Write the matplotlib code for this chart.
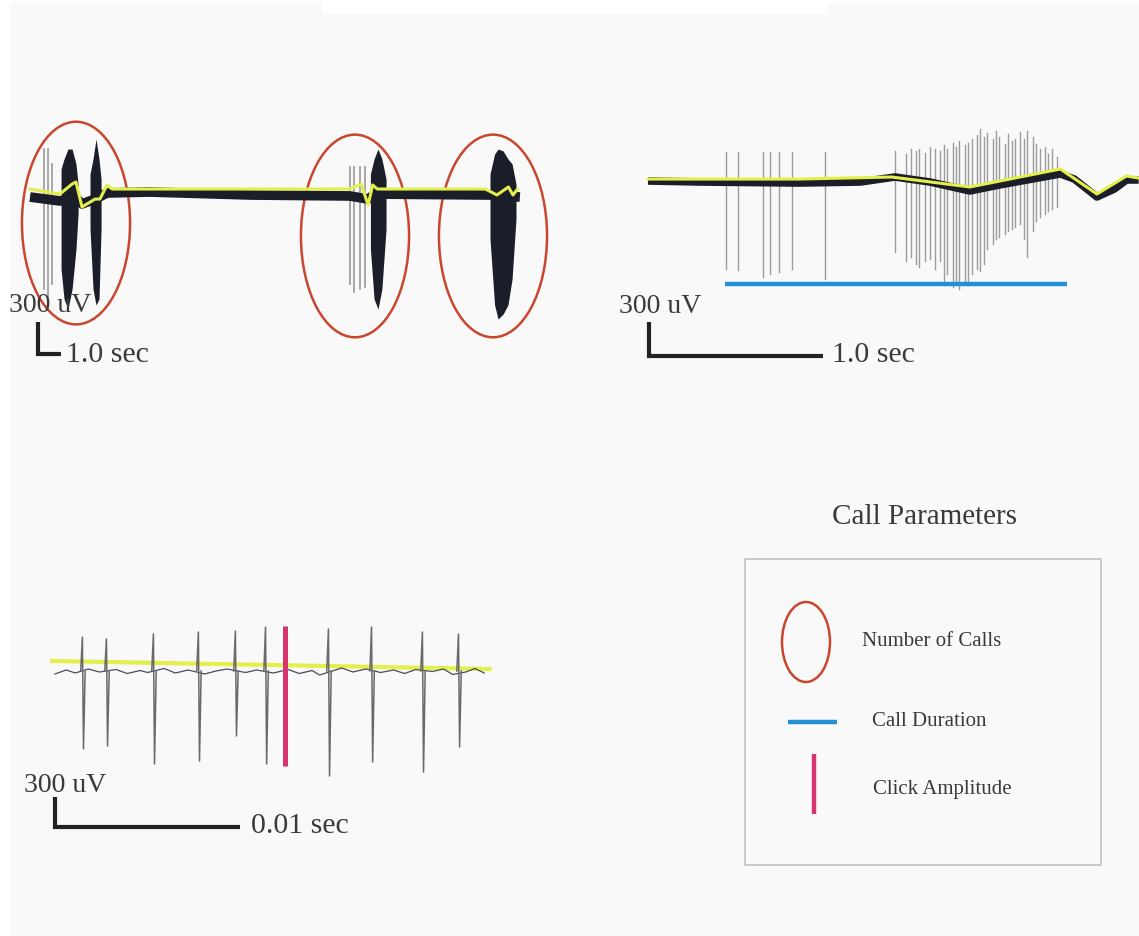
#!/usr/bin/env python

# plot.py - three extracellular traces with the call parameters marked on them

import matplotlib
matplotlib.use( 'Agg' )
import matplotlib.pyplot as plt
from matplotlib.patches import Ellipse, Rectangle, Polygon

# configure
W, H   = 1139, 937
OUT    = 'out.png'
FONT   = [ 'Liberation Serif', 'DejaVu Serif' ]
TEXT   = '#3a3a3a'
TRACE  = '#1b1d29'
SPIKE  = '#8c8c8c'
YELLOW = '#e3ef4a'
RED    = '#c8472e'
BLUE   = '#2290d2'
PINK   = '#d6336f'
BAR    = '#222222'

# panel A - long recording with three calls (sec, uV)
a_base_t   = [ 0, 1.3, 1.96, 2.26, 2.83, 3.35, 5.2, 9.6, 13.9, 14.7, 15.0, 20.0, 21.3 ]
a_base_v   = [ -19, -56, -19, -84, -38, 19, 28, 0, -9, -38, 9, 0, -19 ]
a_yellow_t = [ 0, 1.30, 1.83, 2.00, 2.26, 2.83, 3.04, 3.35, 3.57, 13.9, 14.4, 14.7, 14.9, 15.1, 19.8, 20.3, 20.8, 21.0, 21.2 ]
a_yellow_v = [ 56, 9, 103, 122, -112, -38, -38, 94, 56, 56, 103, -94, 94, 56, 56, 0, 75, 0, 56 ]
a_spike_t  = [ 0.61, 0.78, 0.96, 13.9, 14.1, 14.35, 14.57 ]
a_spike_hi = [ 431, 431, 291, 263, 263, 263, 263 ]
a_spike_lo = [ -881, -975, -834, -834, -909, -881, -863 ]
a_bursts   = [
	( [ 1.35, 1.48, 1.65, 1.83, 2.0, 2.09 ], [ 244, 338, 431, 431, 291, 103 ], [ -694, -975, -1069, -881, -506, -178 ] ),
	( [ 2.61, 2.74, 2.87, 3.0, 3.09 ], [ 197, 338, 525, 338, 150 ], [ -319, -881, -1031, -975, -319 ] ),
	( [ 14.8, 14.96, 15.13, 15.3, 15.48 ], [ 197, 338, 431, 338, 150 ], [ -506, -975, -1069, -881, -319 ] ),
	( [ 20.0, 20.2, 20.35, 20.57, 20.78, 20.96, 21.13 ], [ 197, 384, 431, 413, 338, 291, 103 ], [ -413, -1031, -1163, -1116, -1031, -788, -225 ] ) ]
a_calls_t  = [ 2.0, 14.13, 20.13 ]
a_calls_v  = [ -263, -384, -384 ]

# panel B - one call (sec, uV)
b_base_t   = [ 0, 0.30, 0.87, 1.22, 1.42, 1.62, 1.85, 2.02, 2.37, 2.45, 2.58, 2.68, 2.75, 2.82 ]
b_base_v   = [ 9, 0, -9, 0, 44, 0, -79, -26, 71, 26, -132, -62, 18, 18 ]
b_yellow_t = [ 0, 0.87, 1.40, 1.85, 2.37, 2.58, 2.75, 2.82 ]
b_yellow_v = [ 26, 26, 44, -44, 115, -106, 53, 35 ]
b_spike_t  = [ 0.45, 0.52, 0.66, 0.70, 0.75, 0.83, 1.02,
	1.42, 1.48, 1.51, 1.54, 1.56, 1.59, 1.62, 1.65, 1.68, 1.70, 1.72, 1.75, 1.77, 1.79, 1.82, 1.84, 1.86, 1.89, 1.91,
	1.93, 1.95, 1.98, 2.00, 2.02, 2.05, 2.07, 2.09, 2.11, 2.14, 2.16, 2.18, 2.21, 2.23, 2.25, 2.28, 2.30, 2.32, 2.35 ]
b_spike_hi = [ 265, 265, 265, 265, 265, 265, 265,
	273, 247, 291, 273, 291, 256, 309, 291, 273, 326, 291, 344, 309, 362, 326, 344, 379, 415, 467,
	397, 432, 379, 450, 397, 335, 423, 362, 379, 441, 379, 450, 397, 335, 291, 309, 247, 291, 221 ]
b_spike_lo = [ -767, -776, -838, -811, -794, -767, -855,
	-617, -697, -662, -723, -750, -697, -679, -767, -697, -873, -811, -926, -891, -944, -908, -873, -811, -767, -785,
	-723, -591, -547, -503, -485, -459, -432, -415, -397, -370, -503, -662, -432, -344, -309, -282, -256, -238, -221 ]
b_duration = [ 0.44, 2.41 ]
b_duration_v = -900

# panel C - clicks within a call (ms, uV)
c_base_t   = [ 0, 0.6, 1.1, 1.8, 2.4, 3.3, 3.9, 4.6, 5.0, 5.9, 6.5, 7.2, 8.1, 8.7, 9.3, 10.3, 10.9, 11.8,
	12.6, 13.2, 13.9, 14.3, 15.5, 16.1, 16.8, 17.6, 18.3, 18.9, 19.5, 20.4, 21.0, 21.5, 22.2, 22.7, 23.2 ]
c_base_v   = [ -30, 10, -20, 20, -10, 15, -25, 5, -15, 25, -20, 10, -30, 0, 20, -15, 10, -20,
	15, -25, 5, -40, 30, -10, 20, -15, 10, -25, 15, -5, 20, -35, -10, 25, -20 ]
c_yellow_t = [ -0.16, 23.5 ]
c_yellow_v = [ 100, 20 ]
c_click_t  = [ 1.51, 2.81, 5.35, 7.78, 9.78, 11.41, 14.81, 17.14, 19.89, 21.84 ]
c_click_hi = [ 340, 320, 370, 390, 400, 440, 420, 440, 390, 370 ]
c_click_lo = [ -780, -750, -930, -900, -650, -930, -1050, -910, -1010, -760 ]
c_amp_t    = 12.43
c_amp_v    = [ 450, -950 ]

# legend
labels = [ 'Number of Calls', 'Call Duration', 'Click Amplitude' ]


def panel( x0, y0, px_x, px_y ) :
	# an axes over the whole figure, data origin at pixel (x0, y0)
	ax = fig.add_axes( [ 0, 0, 1, 1 ] )
	ax.set_xlim( -x0 / px_x, ( W - x0 ) / px_x )
	ax.set_ylim( ( y0 - H ) / px_y, y0 / px_y )
	ax.axis( 'off' )
	return ax


def scalebar( ax, x, y, dx, dy, xlabel, ylabel, ylab_at, xlab_at ) :
	ax.plot( [ x, x, x + dx ], [ y + dy, y, y ], color=BAR, lw=3, solid_joinstyle='miter', solid_capstyle='butt' )
	ax.text( ylab_at[ 0 ], ylab_at[ 1 ], ylabel, fontsize=20, color=TEXT, va='center', ha='left' )
	ax.text( xlab_at[ 0 ], xlab_at[ 1 ], xlabel, fontsize=21.5, color=TEXT, va='center', ha='left' )


plt.rcParams[ 'font.family' ] = FONT
fig = plt.figure( figsize=( W / 100, H / 100 ), dpi=100, facecolor='white' )

# page background, with the white strip at the top
bg = fig.add_axes( [ 0, 0, 1, 1 ] )
bg.set_xlim( 0, W )
bg.set_ylim( H, 0 )
bg.axis( 'off' )
bg.add_patch( Polygon( [ ( 10, 4 ), ( 323, 4 ), ( 323, 15 ), ( 828, 15 ), ( 828, 4 ), ( W, 4 ), ( W, H ), ( 10, H ) ],
	closed=True, facecolor='#f9f9f9', edgecolor='none' ) )

# panel A
ax = panel( 30, 196, 23, 32 / 300 )
for t, hi, lo in zip( a_spike_t, a_spike_hi, a_spike_lo ) :
	ax.plot( [ t, t ], [ lo, hi ], color='#9a9a9a', lw=1.2 )
ax.plot( a_base_t, a_base_v, color=TRACE, lw=7, solid_capstyle='butt' )
for t, hi, lo in a_bursts :
	ax.fill_between( t, lo, hi, color=TRACE, lw=0 )
ax.plot( a_yellow_t, a_yellow_v, color=YELLOW, lw=2.2 )
for t, v in zip( a_calls_t, a_calls_v ) :
	ax.add_patch( Ellipse( ( t, v ), 4.7, 1900, fill=False, edgecolor=RED, lw=1.8 ) )
scalebar( ax, 0.35, -1491, 1.0, 300, '1.0 sec', '300 uV', ( -0.9, -1030 ), ( 1.55, -1490 ) )

# panel B
ax = panel( 648, 183, 174, 34 / 300 )
for t, hi, lo in zip( b_spike_t, b_spike_hi, b_spike_lo ) :
	ax.plot( [ t, t ], [ lo, hi ], color=SPIKE, lw=1.0, alpha=0.85 )
ax.plot( b_base_t, b_base_v, color=TRACE, lw=5.5, solid_capstyle='butt' )
ax.plot( b_yellow_t, b_yellow_v, color=YELLOW, lw=2.2 )
ax.plot( b_duration, [ b_duration_v ] * 2, color=BLUE, lw=3.2, solid_capstyle='butt' )
scalebar( ax, 0.006, -1535, 1.0, 300, '1.0 sec', '300 uV', ( -0.165, -1094 ), ( 1.06, -1520 ) )

# panel C
ax = panel( 55, 672, 18.5, 30 / 300 )
ax.plot( c_yellow_t, c_yellow_v, color=YELLOW, lw=3 )
ax.plot( c_base_t, c_base_v, color='#4a4a60', lw=0.9 )
for t, hi, lo in zip( c_click_t, c_click_hi, c_click_lo ) :
	ax.plot( [ t - 0.12, t - 0.03, t + 0.03, t + 0.12 ], [ 0, hi, lo, 0 ], color='#6a6a6a', lw=1.1 )
ax.plot( [ c_amp_t, c_amp_t ], c_amp_v, color=PINK, lw=3.6, solid_capstyle='butt' )
scalebar( ax, 0, -1560, 10, 300, '0.01 sec', '300 uV', ( -1.7, -1130 ), ( 10.6, -1540 ) )

# legend, in page pixels
bg.text( 924, 517, 'Call Parameters', fontsize=21, color=TEXT, ha='center', va='center' )
bg.add_patch( Rectangle( ( 745, 560 ), 356, 306, fill=False, edgecolor='#c4c4c4', lw=1.2 ) )
bg.add_patch( Ellipse( ( 806, 643 ), 48, 80, fill=False, edgecolor=RED, lw=1.8 ) )
bg.plot( [ 788, 837 ], [ 723, 723 ], color=BLUE, lw=3.2, solid_capstyle='butt' )
bg.plot( [ 814, 814 ], [ 755, 815 ], color=PINK, lw=3.2, solid_capstyle='butt' )
for x, y, label in zip( [ 862, 872, 873 ], [ 642, 722, 790 ], labels ) :
	bg.text( x, y, label, fontsize=15, color=TEXT, ha='left', va='center' )

# done
fig.savefig( OUT, dpi=100, facecolor=fig.get_facecolor() )
